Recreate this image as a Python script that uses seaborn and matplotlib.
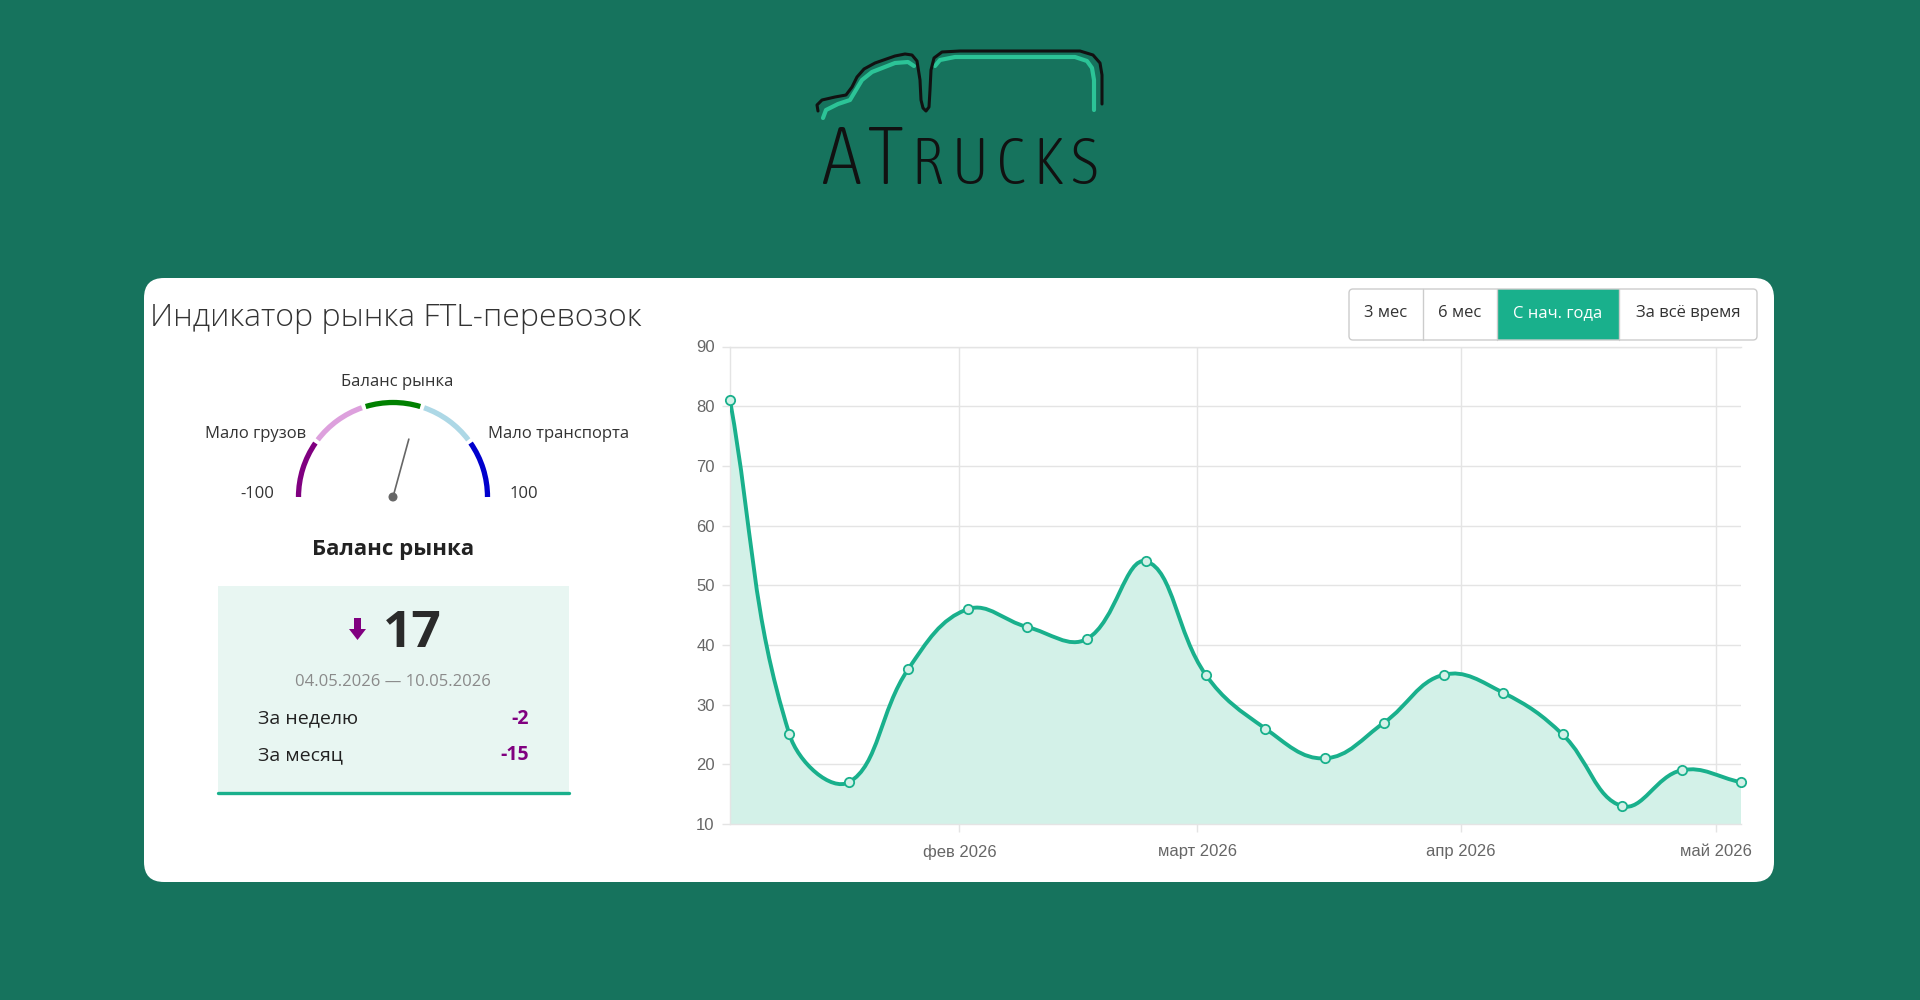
import numpy as np
import pandas as pd
import matplotlib
matplotlib.use("Agg")
import matplotlib.pyplot as plt
import matplotlib.dates as mdates
from matplotlib import font_manager
from matplotlib.font_manager import FontProperties
from matplotlib.path import Path
from matplotlib.patches import PathPatch, FancyBboxPatch, Rectangle, Arc, Circle, FancyArrow
import seaborn as sns

# ---- data ----
week_start = ["2026-01-05", "2026-01-12", "2026-01-19", "2026-01-26", "2026-02-02",
              "2026-02-09", "2026-02-16", "2026-02-23", "2026-03-02", "2026-03-09",
              "2026-03-16", "2026-03-23", "2026-03-30", "2026-04-06", "2026-04-13",
              "2026-04-20", "2026-04-27", "2026-05-04"]
balance = [81, 25, 17, 36, 46, 43, 41, 54, 35, 26, 21, 27, 35, 32, 25, 13, 19, 17]
month_ticks = ["2026-02-01", "2026-03-01", "2026-04-01", "2026-05-01"]
month_labels = ["фев 2026", "март 2026", "апр 2026", "май 2026"]
y_ticks = [10, 20, 30, 40, 50, 60, 70, 80, 90]

gauge_bounds = [-100, -60, -20, 20, 60, 100]
gauge_colors = ["#800080", "#dda0dd", "#008000", "#add8e6", "#0000cd"]
current_value = balance[-1]
week_change = -2
month_change = -15
period_label = "04.05.2026 — 10.05.2026"
range_buttons = ["3 мес", "6 мес", "С нач. года", "За всё время"]
active_button = 2

df = pd.DataFrame({"week": pd.to_datetime(week_start), "balance": balance})

# ---- style ----
BG = "#16735d"
TEAL = "#19b08c"
FILL = "#d3f1e8"
PURPLE = "#800080"
GRID = "#e4e4e4"

sns.set_theme(style="white")
plt.rcParams["font.family"] = ["Open Sans", "DejaVu Sans"]

fig = plt.figure(figsize=(19.2, 10), dpi=100, facecolor=BG)

# background canvas in pixel coords (y down)
bg = fig.add_axes([0, 0, 1, 1], zorder=0)
bg.set_xlim(0, 1920)
bg.set_ylim(1000, 0)
bg.axis("off")

# white card
bg.add_patch(FancyBboxPatch((144, 278), 1630, 604,
                            boxstyle="round,pad=0,rounding_size=20",
                            fc="white", ec="none"))

# logo: truck outline + lettering
truck_black = [(818, 111), (817, 105), (822, 100), (835, 97), (846, 95), (852, 87),
               (857, 77), (864, 69), (875, 63), (895, 56), (905, 54), (912, 55),
               (917, 61), (920, 80), (921, 100), (923, 108), (926, 111), (929, 107),
               (930, 90), (931, 70), (934, 58), (942, 52), (960, 51), (1080, 51),
               (1093, 55), (1100, 63), (1102, 75), (1102, 104)]
truck_cab = [(823, 118), (826, 110), (838, 104), (850, 100), (856, 90), (862, 80),
             (872, 72), (895, 63), (908, 62), (914, 66)]
truck_box = [(935, 66), (940, 60), (955, 57), (1075, 57), (1087, 61), (1092, 68),
             (1094, 80), (1094, 110)]
for seg in (truck_cab, truck_box):
    xs, ys = zip(*seg)
    bg.plot(xs, ys, color="#2cc497", lw=3.0, solid_capstyle="round", solid_joinstyle="round")
xs, ys = zip(*truck_black)
bg.plot(xs, ys, color="#111111", lw=2.2, solid_capstyle="round", solid_joinstyle="round")

# pick the narrowest available face for the logo lettering
narrow = [f for f in font_manager.fontManager.ttflist
          if any(k in (f.name + " " + f.fname) for k in ("Cond", "Narrow"))
          or f.stretch in ("condensed", "semi-condensed", "extra-condensed")]
narrow.sort(key=lambda f: (0 if "Light" in f.fname or f.weight in (300, "light") else 1,
                           0 if "Cond" in f.fname else 1))
logo_fp = FontProperties(fname=narrow[0].fname) if narrow else FontProperties(family="DejaVu Sans")

logo_letters = [("A", 58), ("T", 58), ("R", 47), ("U", 47), ("C", 47), ("K", 47), ("S", 47)]
renderer = fig.canvas.get_renderer()


def place_logo(scale):
    objs, x = [], 0.0
    for ch, fs in logo_letters:
        t = bg.text(x, 184, ch, ha="left", va="baseline", fontproperties=logo_fp,
                    fontsize=fs * scale, color="#111111")
        w = t.get_window_extent(renderer).width
        objs.append((t, x))
        x += w + 7
    return objs, x - 7


objs, total = place_logo(1.0)
if total > 290:
    for t, _ in objs:
        t.remove()
    objs, total = place_logo(290 / total)
x0 = 960 - total / 2
for t, x in objs:
    t.set_x(x0 + x)

# title
bg.text(150, 318.5, "Индикатор рынка FTL-перевозок", ha="left", va="center",
        fontsize=23, color="#333333", fontweight="light")

# range buttons
btn_edges = [1349, 1423, 1497, 1619, 1757]
bg.add_patch(Rectangle((btn_edges[active_button], 289),
                       btn_edges[active_button + 1] - btn_edges[active_button], 51,
                       fc=TEAL, ec="none"))
bg.add_patch(FancyBboxPatch((1349, 289), 408, 51, boxstyle="round,pad=0,rounding_size=4",
                            fc="none", ec="#cccccc", lw=1))
for i, label in enumerate(range_buttons):
    if 0 < i:
        bg.plot([btn_edges[i]] * 2, [289, 340], color="#cccccc", lw=1)
    bg.text((btn_edges[i] + btn_edges[i + 1]) / 2, 313, label, ha="center", va="center",
            fontsize=12, color="white" if i == active_button else "#333333")

# gauge labels
bg.text(397, 382.5, "Баланс рынка", ha="center", va="center", fontsize=12, color="#333333")
bg.text(306, 434.5, "Мало грузов", ha="right", va="center", fontsize=12, color="#333333")
bg.text(488, 434.5, "Мало транспорта", ha="left", va="center", fontsize=12, color="#333333")
bg.text(257, 493.5, str(gauge_bounds[0]), ha="center", va="center", fontsize=12, color="#333333")
bg.text(524, 493.5, str(gauge_bounds[-1]), ha="center", va="center", fontsize=12, color="#333333")
bg.text(393, 549.5, "Баланс рынка", ha="center", va="center", fontsize=16,
        fontweight="bold", color="#222222")

# stats box
bg.add_patch(Rectangle((218, 586), 351, 207, fc="#e8f6f2", ec="none"))
bg.plot([218, 569], [793, 793], color=TEAL, lw=2.4)
bg.add_patch(FancyArrow(357.5, 618, 0, 22, width=7, head_width=17, head_length=11,
                        length_includes_head=True, color=PURPLE, lw=0))
bg.text(412, 634, str(current_value), ha="center", va="center", fontsize=37,
        fontweight="bold", color="#2a2a2a")
bg.text(393, 681.5, period_label, ha="center", va="center", fontsize=12, color="#8a8a8a")
bg.text(258, 718.5, "За неделю", ha="left", va="center", fontsize=14, color="#222222")
bg.text(529, 718.5, str(week_change), ha="right", va="center", fontsize=14,
        fontweight="bold", color=PURPLE)
bg.text(258, 755.5, "За месяц", ha="left", va="center", fontsize=14, color="#222222")
bg.text(529, 755.5, str(month_change), ha="right", va="center", fontsize=14,
        fontweight="bold", color=PURPLE)

# ---- gauge ----
gx = fig.add_axes([263 / 1920, 483 / 1000, 260 / 1920, 140 / 1000], zorder=1)
gx.set_xlim(-130, 130)
gx.set_ylim(-20, 120)
gx.axis("off")
gx.patch.set_alpha(0)


def val2ang(v):
    return 90 - v * 0.9


for lo, hi, c in zip(gauge_bounds[:-1], gauge_bounds[1:], gauge_colors):
    gap_lo = 0 if lo == gauge_bounds[0] else 1.2
    gap_hi = 0 if hi == gauge_bounds[-1] else 1.2
    gx.add_patch(Arc((0, 0), 189, 189, theta1=val2ang(hi) + gap_hi,
                     theta2=val2ang(lo) - gap_lo, color=c, lw=3.8))
a = np.deg2rad(val2ang(current_value))
gx.plot([0, 60 * np.cos(a)], [0, 60 * np.sin(a)], color="#666666", lw=1.2)
gx.add_patch(Circle((0, 0), 3.8, color="#666666"))

# ---- line chart ----
ax = fig.add_axes([730 / 1920, 176 / 1000, 1011 / 1920, 477.5 / 1000], zorder=2)
ax.set_facecolor("white")
xnum = mdates.date2num(df["week"])
ax.set_xlim(xnum[0], xnum[-1])
ax.set_ylim(y_ticks[0], y_ticks[-1])

# Chart.js style bezier (tension 0.4), computed in pixel space
tension = 0.4
pts = ax.transData.transform(np.column_stack([xnum, df["balance"]]))
n = len(pts)
cp_prev = np.zeros_like(pts)
cp_next = np.zeros_like(pts)
for i in range(n):
    prev = pts[i - 1] if i > 0 else pts[i]
    nxt = pts[i + 1] if i < n - 1 else pts[i]
    d01 = np.hypot(*(pts[i] - prev))
    d12 = np.hypot(*(nxt - pts[i]))
    tot = d01 + d12
    s01 = d01 / tot if tot else 0
    s12 = d12 / tot if tot else 0
    cp_prev[i] = pts[i] - tension * s01 * (nxt - prev)
    cp_next[i] = pts[i] + tension * s12 * (nxt - prev)
bb = ax.bbox
cp_prev[:, 1] = np.clip(cp_prev[:, 1], bb.y0, bb.y1)
cp_next[:, 1] = np.clip(cp_next[:, 1], bb.y0, bb.y1)

verts = [pts[0]]
codes = [Path.MOVETO]
for i in range(n - 1):
    verts += [cp_next[i], cp_prev[i + 1], pts[i + 1]]
    codes += [Path.CURVE4] * 3
verts = ax.transData.inverted().transform(np.array(verts))

fill_verts = np.vstack([verts, [[xnum[-1], y_ticks[0]], [xnum[0], y_ticks[0]], verts[0]]])
fill_codes = codes + [Path.LINETO, Path.LINETO, Path.CLOSEPOLY]
ax.add_patch(PathPatch(Path(fill_verts, fill_codes), fc=FILL, ec="none", zorder=1))
ax.add_patch(PathPatch(Path(verts, codes), fc="none", ec=TEAL, lw=2.8,
                       capstyle="round", joinstyle="round", zorder=3))

sns.scatterplot(data=df, x=xnum, y="balance", ax=ax, s=45, color=FILL,
                edgecolor=TEAL, linewidth=1.3, zorder=4, clip_on=False, legend=False)

ax.set_yticks(y_ticks)
ax.set_xticks(mdates.date2num(pd.to_datetime(month_ticks)))
ax.set_xticklabels(month_labels)
ax.set_xlabel("")
ax.set_ylabel("")
ax.grid(True, color=GRID, lw=1)
ax.set_axisbelow(True)
ax.tick_params(axis="both", which="both", length=6, width=1, color=GRID,
               labelcolor="#666666", labelsize=12)
ax.tick_params(axis="y", pad=5, left=True)
ax.tick_params(axis="x", pad=8.7, bottom=True)
for lab in ax.get_xticklabels() + ax.get_yticklabels():
    lab.set_family("Liberation Sans")
for side in ("left", "bottom", "top"):
    ax.spines[side].set_color(GRID)
    ax.spines[side].set_linewidth(1)
ax.spines["right"].set_visible(False)

fig.savefig("out.png", dpi=100, facecolor=BG)
